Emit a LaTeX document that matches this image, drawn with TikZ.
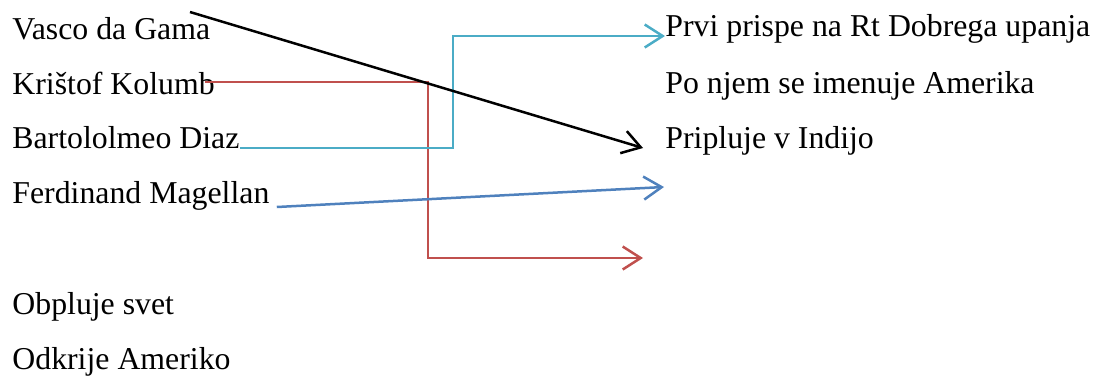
\documentclass[tikz,border=0pt]{standalone}
\usepackage{fontspec}
\setmainfont{Liberation Serif}
\usetikzlibrary{arrows.meta,calc}

\definecolor{accred}{RGB}{192,80,77}
\definecolor{acccyan}{RGB}{75,172,198}
\definecolor{accblue}{RGB}{79,129,189}

\tikzset{
  txt/.style={anchor=base west,inner sep=0pt,font=\fontsize{15.9}{19}\selectfont},
  link/.style={line width=1.25pt,->,line join=miter},
}

\begin{document}
\begin{tikzpicture}[x=0.5pt,y=-0.5pt,>={Straight Barb[length=9pt,width=11.5pt,line width=1.25pt]}]

\useasboundingbox (0,0) rectangle (1095,376);

% names
\node[txt] (gama)     at (12,39)  {Vasco da Gama};
\node[txt] (kolumb)   at (12,94)  {Krištof Kolumb};
\node[txt] (diaz)     at (12,148) {Bartololmeo Diaz};
\node[txt] (magellan) at (12,203) {Ferdinand Magellan};
\node[txt] (svet)     at (12,314) {Obpluje svet};
\node[txt] (ameriko)  at (12,369) {Odkrije Ameriko};

% deeds
\node[txt] (rt)       at (665,36)  {Prvi prispe na Rt Dobrega upanja};
\node[txt] (amerika)  at (665,93)  {Po njem se imenuje Amerika};
\node[txt] (indija)   at (665,148) {Pripluje v Indijo};

\coordinate (gamatail) at (190,12);
\coordinate (magend) at (664,187);
\coordinate (kolend) at (643,258);

\draw[link,accred] ($(kolumb.base east)+(-10,-12)$) -- ++(223,0) |- (kolend);
\draw[link,acccyan] (diaz.base east) -- ++(213,0) |- (rt.base west);
\draw[link,black] (gamatail) -- ($(indija.base west)+(-22,0)$);
\draw[link,accblue] ($(magellan.base east)+(7,4)$) -- (magend);

\end{tikzpicture}
\end{document}
